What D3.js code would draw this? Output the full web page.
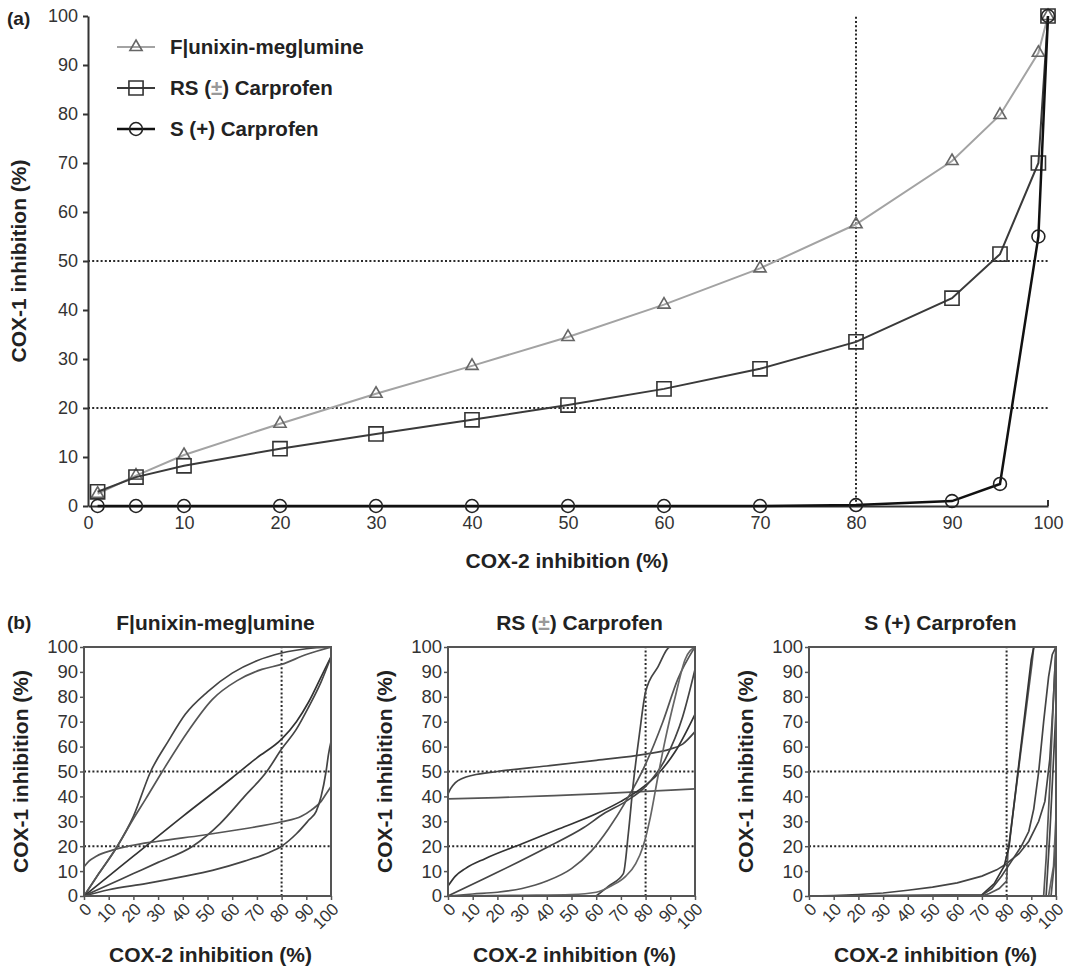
<!DOCTYPE html>
<html>
<head>
<meta charset="utf-8">
<script src="https://cdn.jsdelivr.net/npm/d3@7"></script>
<style>
    body { margin: 0; background: #fff; }
    svg { display: block; font-family: "Liberation Sans", Arial, sans-serif; }
    .tick text { fill: #333; }
</style>
</head>
<body>
<svg id="chart" width="1074" height="967"></svg>
<script>
// ---- data ----
const mainTicks = [0, 10, 20, 30, 40, 50, 60, 70, 80, 90, 100];
const cox2Levels = [1, 5, 10, 20, 30, 40, 50, 60, 70, 80, 90, 95, 99, 100];
const flunixinCox1 = [2.5, 6.2, 10.4, 16.8, 22.9, 28.6, 34.5, 41.1, 48.5, 57.5, 70.4, 79.8, 92.5, 100];
const rsCarprofenCox1 = [2.9, 5.9, 8.2, 11.7, 14.7, 17.6, 20.6, 23.9, 28.0, 33.5, 42.4, 51.4, 70.0, 100];
const sCarprofenCox1 = [0, 0, 0, 0, 0, 0, 0, 0, 0, 0.2, 1.0, 4.5, 55, 100];
const drugNames = ["F|unixin-meg|umine", "RS (±) Carprofen", "S (+) Carprofen"];
const refCox1 = [50, 20];
const refCox2 = [80];

// individual horse curves, panel (b)
const flunixinCurves = [
    [[0,0],[6,9],[13.5,20],[20,32],[27,50],[34,62],[41,73],[50,82],[60,89.5],[70,94.5],[80,97.6],[90,99.3],[100,100]],
    [[0,0],[6,9],[13.5,20],[20,31],[25,39],[31.7,50],[42,66],[52,79],[62,86.5],[72,91],[80,93],[90,97],[100,100]],
    [[0,0],[10,8],[20,16],[40,32],[60,47.5],[70,55.5],[80,63],[86,70],[91,78],[96,88],[100,96]],
    [[0,0],[10,4.5],[20,9],[30,13.5],[44,20],[55,29],[65,40],[74,50],[80,59],[86,67],[91,76],[96,86],[100,96]],
    [[0,11.7],[2,14],[5,16],[11.5,18.4],[18,20],[30,22],[48,24.4],[65,27],[80,29.8],[88,32],[92,34.5],[96,38],[98,41],[100,44]],
    [[0,0],[10,2.5],[25,5],[40,7.8],[52,10.3],[65,14],[75,17.5],[80,20],[86,25],[91,30.5],[94,34],[96,40],[98,50],[99,57],[100,62]]
];
const rsCarprofenCurves = [
    [[0,41],[1,43],[3,45.5],[6,47.3],[10,48.5],[20,50],[40,52.2],[60,54.5],[80,57],[90,59],[95,61],[100,66]],
    [[0,39],[20,39.5],[40,40.2],[60,41],[80,42],[100,43]],
    [[0,4],[3,8],[7,11],[15,15],[30,21],[45,27],[60,33],[70,38],[78,43],[85,49],[92,58],[100,73]],
    [[0,0],[20,9.5],[40,19.5],[55,27.5],[63,33],[72,38],[80,44],[88,55],[95,72],[100,91]],
    [[0,0],[10,0.8],[20,1.5],[30,3],[40,6],[50,11],[58,18],[65,27],[72,38],[80,53],[87,70],[93,87],[100,100]],
    [[60,0],[65,4],[71,9],[73,25],[75,45],[77.5,65],[80,82],[85,92],[90,100],[100,100]],
    [[0,0],[30,0.3],[50,0.6],[60,1.5],[66,4],[72,8],[76,13],[79,20],[82,32],[85,48],[88,63],[92,80],[96,95],[100,100]]
];
const sCarprofenCurves = [
    [[0,0],[10,0.2],[20,0.6],[30,1.2],[40,2.3],[50,3.6],[60,5.3],[70,8],[76,10.5],[80,13],[85,17],[89,22],[93,30],[95.5,38],[97.5,55],[99,80],[100,100]],
    [[0,0],[70,0],[73,1],[77,3],[80,6],[80.5,17],[90.3,93.5],[91,100],[100,100]],
    [[0,0],[70,0.5],[75,5],[79,12],[81,20],[90,95],[91,100]],
    [[0,0],[70,0.3],[74,3],[78,8],[82,14],[86,20],[89,26],[91,35],[93,50],[95,70],[97,88],[98.5,97],[100,100]],
    [[0,0],[95,0],[96,15],[97.5,45],[99,80],[100,100]],
    [[0,0],[96,0],[97.5,25],[99,55],[100,75]],
    [[97,0],[99,12],[100,32]],
    [[98,0],[99,10],[100,20]]
];
const panelCurves = [flunixinCurves, rsCarprofenCurves, sCarprofenCurves];

const svg = d3.select("#chart");

function addDrugLabel(textSel, name) {
    // the ± sign is printed in a lighter grey in the original
    const parts = name.split("±");
    textSel.append("tspan").text(parts[0]);
    if (parts.length > 1) {
        textSel.append("tspan").attr("fill", "#999").text("±");
        textSel.append("tspan").text(parts[1]);
    }
}

function drawRefLines(g, x, y) {
    g.selectAll(".hline")
        .data(refCox1)
        .enter()
        .append("line")
        .attr("x1", x(0)).attr("x2", x(100))
        .attr("y1", d => y(d)).attr("y2", d => y(d))
        .attr("stroke", "#2a2a2a").attr("stroke-width", 2)
        .attr("stroke-dasharray", "2,2.2");
    g.selectAll(".vline")
        .data(refCox2)
        .enter()
        .append("line")
        .attr("x1", d => x(d)).attr("x2", d => x(d))
        .attr("y1", y(0)).attr("y2", y(100))
        .attr("stroke", "#2a2a2a").attr("stroke-width", 2)
        .attr("stroke-dasharray", "2,2.2");
}

function drawMain() {
    const x = d3.scaleLinear().domain([0, 100]).range([88, 1048]);
    const y = d3.scaleLinear().domain([0, 100]).range([506, 16]);
    const g = svg.append("g");

    drawRefLines(g, x, y);

    const yAxis = g.append("g")
        .attr("transform", `translate(${x(0)},0)`)
        .call(d3.axisLeft(y).tickValues(mainTicks).tickSize(5).tickSizeOuter(0).tickPadding(5));
    yAxis.selectAll("path, line").attr("stroke", "#333").attr("stroke-width", 2);
    yAxis.selectAll("text").attr("font-size", 18);

    const xAxis = g.append("g")
        .attr("transform", `translate(0,${y(0)})`)
        .call(d3.axisBottom(x).tickValues(mainTicks).tickSize(0).tickSizeOuter(0).tickPadding(10));
    xAxis.select(".domain").attr("stroke", "#333").attr("stroke-width", 2);
    xAxis.selectAll("text").attr("font-size", 18);
    g.append("line")
        .attr("x1", x(100)).attr("x2", x(100))
        .attr("y1", y(0) - 6).attr("y2", y(0))
        .attr("stroke", "#333").attr("stroke-width", 2);

    const series = [
        { name: drugNames[0], values: flunixinCox1, color: "#a3a3a3", width: 2, marker: d3.symbolTriangle, size: 64, mcolor: "#666" },
        { name: drugNames[1], values: rsCarprofenCox1, color: "#3a3a3a", width: 2, marker: d3.symbolSquare, size: 200, mcolor: "#333" },
        { name: drugNames[2], values: sCarprofenCox1, color: "#111", width: 2.5, marker: d3.symbolCircle, size: 130, mcolor: "#222" }
    ];

    const line = d3.line()
        .x((d, i) => x(cox2Levels[i]))
        .y(d => y(d));

    // draw lighter series first so darker ones sit on top
    series.forEach(s => {
        g.append("path")
            .datum(s.values)
            .attr("d", line)
            .attr("fill", "none")
            .attr("stroke", s.color)
            .attr("stroke-width", s.width);
        g.selectAll(null)
            .data(s.values)
            .enter()
            .append("path")
            .attr("d", d3.symbol().type(s.marker).size(s.size))
            .attr("transform", (d, i) => `translate(${x(cox2Levels[i])},${y(d)})`)
            .attr("fill", "none")
            .attr("stroke", s.mcolor)
            .attr("stroke-width", 1.6);
    });

    // legend
    const legend = g.append("g");
    series.forEach((s, i) => {
        const ly = 47 + i * 41;
        legend.append("line")
            .attr("x1", 117).attr("x2", 155)
            .attr("y1", ly).attr("y2", ly)
            .attr("stroke", s.color).attr("stroke-width", s.width);
        legend.append("path")
            .attr("d", d3.symbol().type(s.marker).size(s.size))
            .attr("transform", `translate(136,${ly})`)
            .attr("fill", "none")
            .attr("stroke", s.mcolor)
            .attr("stroke-width", 1.6);
        const t = legend.append("text")
            .attr("x", 170).attr("y", ly)
            .attr("dy", "0.36em")
            .attr("font-size", 20.5)
            .attr("font-weight", "bold")
            .attr("fill", "#222");
        addDrugLabel(t, s.name);
    });

    svg.append("text")
        .attr("x", 7).attr("y", 25)
        .attr("font-size", 19).attr("font-weight", "bold").attr("fill", "#222")
        .text("(a)");

    svg.append("text")
        .attr("x", 567).attr("y", 568)
        .attr("text-anchor", "middle")
        .attr("font-size", 21).attr("font-weight", "bold").attr("fill", "#222")
        .text("COX-2 inhibition (%)");

    svg.append("text")
        .attr("transform", `translate(26,${y(50)}) rotate(-90)`)
        .attr("text-anchor", "middle")
        .attr("font-size", 21).attr("font-weight", "bold").attr("fill", "#222")
        .text("COX-1 inhibition (%)");
}

function drawPanel(i) {
    const lefts = [84, 448, 809];
    const left = lefts[i];
    const w = 247;
    const top = 647;
    const bottom = 896;

    const x = d3.scaleLinear().domain([0, 100]).range([left, left + w]);
    const y = d3.scaleLinear().domain([0, 100]).range([bottom, top]);
    const g = svg.append("g");

    const clipId = `clip-${i}`;
    g.append("clipPath").attr("id", clipId)
        .append("rect")
        .attr("x", left).attr("y", top - 1)
        .attr("width", w).attr("height", bottom - top + 2);

    drawRefLines(g, x, y);

    // the S(+) traces have sharp kinks, the others are smooth fits
    const line = d3.line()
        .x(d => x(d[0]))
        .y(d => y(d[1]))
        .curve(i === 2 ? d3.curveLinear : d3.curveMonotoneX);

    const shades = ["#444", "#555", "#333", "#444", "#555", "#444", "#666", "#555"];
    g.append("g")
        .attr("clip-path", `url(#${clipId})`)
        .selectAll("path")
        .data(panelCurves[i])
        .enter()
        .append("path")
        .attr("d", line)
        .attr("fill", "none")
        .attr("stroke", (d, k) => shades[k % shades.length])
        .attr("stroke-width", 1.7);

    g.append("rect")
        .attr("x", left).attr("y", top)
        .attr("width", w).attr("height", bottom - top)
        .attr("fill", "none")
        .attr("stroke", "#555")
        .attr("stroke-width", 2);

    const yAxis = g.append("g")
        .attr("transform", `translate(${left},0)`)
        .call(d3.axisLeft(y).tickValues(mainTicks).tickSize(4).tickSizeOuter(0).tickPadding(2));
    yAxis.select(".domain").remove();
    yAxis.selectAll("line").attr("stroke", "#555").attr("stroke-width", 1.5);
    yAxis.selectAll("text").attr("font-size", 18.5);

    const xAxis = g.append("g")
        .attr("transform", `translate(0,${bottom})`)
        .call(d3.axisBottom(x).tickValues(mainTicks).tickSize(4).tickSizeOuter(0));
    xAxis.select(".domain").remove();
    xAxis.selectAll("line").attr("stroke", "#555").attr("stroke-width", 1.5);
    xAxis.selectAll("text")
        .attr("font-size", 17)
        .attr("x", 0).attr("y", 0)
        .attr("dy", "0.35em")
        .attr("text-anchor", "end")
        .attr("transform", "translate(4,10) rotate(-45)");

    const title = svg.append("text")
        .attr("x", left + w / 2 + 8).attr("y", 630)
        .attr("text-anchor", "middle")
        .attr("font-size", 21).attr("font-weight", "bold").attr("fill", "#222");
    addDrugLabel(title, drugNames[i]);

    svg.append("text")
        .attr("x", left + w / 2 + 3).attr("y", 962)
        .attr("text-anchor", "middle")
        .attr("font-size", 21).attr("font-weight", "bold").attr("fill", "#222")
        .text("COX-2 inhibition (%)");

    svg.append("text")
        .attr("transform", `translate(${left - 56},${(top + bottom) / 2}) rotate(-90)`)
        .attr("text-anchor", "middle")
        .attr("font-size", 21).attr("font-weight", "bold").attr("fill", "#222")
        .text("COX-1 inhibition (%)");
}

drawMain();
[0, 1, 2].forEach(drawPanel);

svg.append("text")
    .attr("x", 7).attr("y", 629)
    .attr("font-size", 19).attr("font-weight", "bold").attr("fill", "#222")
    .text("(b)");
</script>
</body>
</html>
